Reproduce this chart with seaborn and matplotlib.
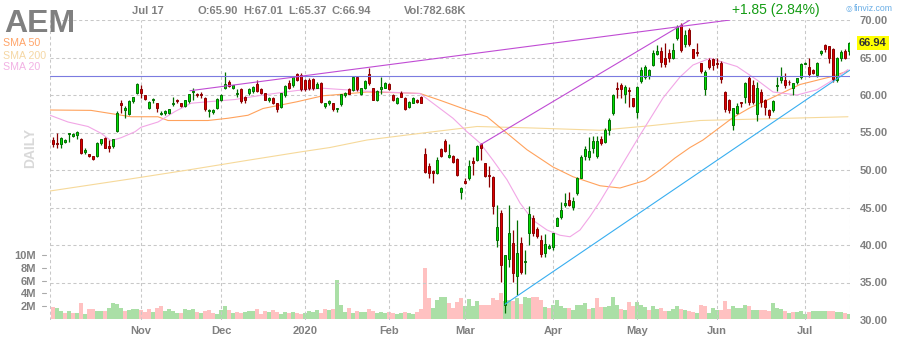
import matplotlib
matplotlib.use("Agg")
import matplotlib.pyplot as plt
from matplotlib.lines import Line2D
import numpy as np
import seaborn as sns

# ---------------- data ----------------
ticker = "AEM"
header_date = "Jul 17"
header_ohlc = ["O:65.90", "H:67.01", "L:65.37", "C:66.94"]
header_vol = "Vol:782.68K"
change_text = "+1.85 (2.84%)"
last_price = 66.94

opens = [54.0, 53.65, 53.47, 53.73, 54.85, 54.53, 54.62, 54.13, 52.4, 52.13,
         51.87, 51.91, 53.56, 54.2, 53.2, 53.2, 55.2, 58.9, 58.0, 57.47,
         59.24, 60.31, 60.76, 60.0, 58.3, 59.3, 58.89, 57.5, 57.55, 57.55,
         58.85, 59.3, 58.9, 58.5, 59.15, 60.4, 60.2, 60.2, 59.6, 57.9,
         57.8, 58.3, 59.35, 60.9, 61.78, 60.9, 60.2, 60.76, 59.8, 60.22,
         60.5, 61.5, 60.8, 60.2, 59.3, 59.6, 58.9, 58.4, 60.0, 61.6,
         61.3, 62.8, 62.67, 62.0, 62.0, 62.1, 61.0, 61.56, 58.5, 58.9,
         58.9, 58.1, 58.76, 60.0, 60.76, 60.67, 62.36, 60.2, 61.0, 62.8,
         60.9, 59.33, 60.85, 61.0, 61.47, 60.0, 58.9, 60.2, 59.56, 58.4,
         58.98, 59.33, 59.78, 52.13, 50.5, 49.87, 49.64, 52.75, 53.9, 51.7,
         51.87, 51.47, 47.1, 48.6, 49.0, 51.2, 51.33, 53.47, 50.98, 49.35,
         49.1, 40.67, 44.3, 32.0, 38.13, 40.3, 35.9, 40.2, 37.8, 41.56,
         43.56, 42.13, 40.67, 39.0, 39.6, 39.78, 42.6, 43.78, 45.3, 46.0,
         45.1, 46.98, 49.0, 51.9, 51.7, 53.0, 51.87, 54.2, 53.8, 55.33,
         57.56, 60.9, 61.33, 60.13, 60.7, 59.56, 57.8, 61.9, 62.4, 62.53,
         64.0, 65.42, 65.87, 64.9, 65.64, 64.9, 67.56, 69.33, 66.8, 68.67,
         66.1, 65.7, 64.2, 60.8, 64.67, 64.76, 64.3, 64.3, 60.44, 59.33,
         56.0, 57.64, 59.0, 59.8, 62.3, 61.4, 57.5, 60.44, 59.33, 58.0,
         58.0, 61.2, 62.0, 62.0, 61.8, 60.9, 61.8, 62.44, 64.2, 63.78,
         63.4, 62.67, 65.56, 66.67, 66.5, 66.2, 62.0, 65.0, 65.87, 65.90]

highs = [54.4, 54.9, 54.44, 54.2, 55.0, 55.0, 55.2, 54.3, 52.9, 52.2,
         51.9, 53.7, 54.2, 54.4, 54.0, 54.2, 57.9, 59.3, 58.5, 59.4,
         59.8, 61.6, 61.3, 60.0, 59.2, 59.6, 59.0, 57.9, 58.0, 58.2,
         59.7, 59.5, 59.0, 59.4, 60.2, 60.9, 60.3, 60.4, 59.7, 58.2,
         58.1, 59.6, 60.1, 63.1, 62.0, 61.4, 60.8, 61.0, 59.9, 61.0,
         61.2, 62.0, 61.0, 60.3, 59.8, 59.7, 59.0, 60.3, 61.3, 62.0,
         62.5, 63.0, 62.9, 62.2, 62.3, 62.3, 61.7, 61.7, 59.0, 59.4,
         59.0, 58.3, 60.2, 60.4, 61.0, 62.5, 62.6, 61.0, 62.0, 63.56,
         61.0, 60.7, 62.4, 61.7, 61.6, 60.1, 59.7, 60.5, 59.7, 59.2,
         59.7, 59.5, 59.9, 52.9, 50.9, 50.0, 51.7, 52.9, 54.1, 53.5,
         52.0, 51.6, 47.8, 48.9, 51.3, 51.8, 53.3, 53.6, 51.0, 50.5,
         49.2, 45.3, 44.7, 38.7, 45.3, 42.0, 43.3, 41.1, 39.3, 45.2,
         44.0, 42.4, 41.3, 41.5, 40.1, 41.65, 43.8, 45.8, 46.9, 47.1,
         46.4, 49.1, 52.0, 53.2, 54.4, 54.5, 54.5, 54.6, 55.6, 56.9,
         60.1, 61.8, 61.6, 61.3, 61.1, 59.6, 61.2, 63.8, 64.0, 63.5,
         66.0, 66.7, 66.4, 66.9, 66.2, 67.0, 69.3, 69.6, 68.7, 69.0,
         66.2, 66.9, 64.3, 63.3, 64.9, 64.9, 65.0, 64.5, 60.5, 59.5,
         58.3, 58.9, 59.1, 61.8, 62.6, 62.0, 61.8, 60.8, 59.5, 58.1,
         59.3, 62.4, 63.8, 62.9, 62.0, 61.6, 62.3, 64.3, 64.4, 64.9,
         63.5, 64.4, 66.0, 66.8, 66.6, 66.3, 65.1, 66.0, 66.1, 67.01]

lows = [53.1, 52.9, 52.9, 53.6, 53.8, 54.4, 54.2, 52.1, 52.2, 51.7,
        51.3, 51.8, 53.4, 52.9, 52.4, 52.9, 55.1, 57.56, 56.9, 57.3,
        59.0, 60.2, 59.6, 59.3, 58.2, 58.9, 57.8, 57.3, 57.4, 57.5,
        58.5, 59.0, 58.4, 58.4, 59.0, 59.3, 59.8, 59.6, 57.9, 57.1,
        57.5, 58.2, 59.2, 60.8, 61.1, 60.8, 59.8, 58.9, 59.0, 60.0,
        60.3, 60.4, 60.1, 59.3, 59.1, 58.8, 57.8, 58.3, 59.8, 60.8,
        61.1, 61.9, 60.6, 60.6, 60.7, 60.7, 60.9, 58.9, 58.3, 58.7,
        57.9, 57.7, 58.6, 59.8, 60.1, 60.5, 60.6, 60.0, 60.8, 61.4,
        59.3, 59.2, 60.2, 60.9, 60.7, 59.2, 58.8, 59.7, 58.0, 58.3,
        58.9, 58.9, 58.9, 49.6, 48.9, 48.3, 49.5, 51.7, 52.4, 51.6,
        51.0, 49.2, 46.1, 48.1, 48.7, 49.3, 51.2, 51.3, 49.1, 47.8,
        44.1, 39.8, 35.1, 30.9, 37.1, 35.1, 33.3, 36.2, 36.2, 40.0,
        41.2, 41.0, 38.4, 38.4, 39.5, 39.4, 42.5, 43.5, 45.1, 45.2,
        44.7, 46.7, 48.9, 51.3, 51.3, 52.3, 51.6, 53.4, 53.6, 54.7,
        57.3, 59.6, 59.6, 58.9, 58.4, 58.4, 56.9, 61.6, 62.2, 62.2,
        63.9, 65.3, 63.8, 63.8, 64.4, 64.8, 67.3, 65.8, 66.4, 66.5,
        64.9, 65.2, 63.0, 60.0, 63.5, 63.3, 63.6, 61.6, 57.8, 57.6,
        55.3, 57.5, 58.4, 59.0, 58.7, 58.8, 56.6, 58.4, 57.3, 57.0,
        57.7, 60.6, 61.6, 61.0, 61.3, 60.0, 61.5, 62.2, 64.1, 62.4,
        62.8, 62.4, 65.3, 65.8, 64.3, 61.8, 61.8, 64.5, 64.8, 65.37]

closes = [53.47, 53.47, 54.22, 54.0, 54.95, 54.8, 55.07, 52.22, 52.67, 51.87,
          51.42, 53.56, 54.13, 53.0, 53.0, 54.1, 57.56, 58.7, 58.2, 59.24,
          59.69, 61.47, 60.22, 59.5, 59.07, 59.4, 58.3, 57.65, 57.9, 58.1,
          58.95, 59.15, 58.5, 59.3, 60.1, 60.5, 59.95, 59.95, 58.1, 58.05,
          57.95, 59.47, 60.0, 61.5, 61.24, 61.3, 60.3, 59.24, 59.33, 60.76,
          61.1, 60.5, 60.3, 59.4, 59.6, 58.9, 58.2, 60.2, 61.2, 61.0,
          62.4, 62.0, 60.76, 60.76, 60.9, 60.9, 61.5, 59.1, 58.9, 59.25,
          58.1, 58.2, 60.1, 60.3, 60.2, 62.36, 60.76, 60.9, 61.9, 61.56,
          59.4, 60.58, 61.1, 61.6, 60.8, 59.4, 59.56, 59.8, 58.1, 59.1,
          59.56, 59.1, 59.0, 49.78, 49.56, 49.56, 51.33, 51.87, 52.6, 51.95,
          51.1, 49.33, 47.65, 48.22, 50.5, 50.9, 53.2, 53.0, 49.25, 49.2,
          45.25, 42.45, 37.3, 38.67, 41.6, 36.3, 38.98, 36.4, 37.9, 44.13,
          41.56, 41.25, 38.76, 40.1, 39.9, 41.56, 43.56, 44.67, 45.6, 45.3,
          45.9, 48.9, 51.7, 52.75, 52.6, 53.9, 53.87, 53.6, 55.3, 56.67,
          60.0, 60.8, 60.76, 61.1, 60.6, 58.58, 61.1, 63.33, 63.8, 63.33,
          65.56, 65.87, 64.44, 64.2, 64.9, 66.0, 69.0, 66.0, 68.0, 66.8,
          65.0, 65.6, 63.24, 63.1, 63.78, 64.0, 64.2, 62.1, 58.2, 58.0,
          58.2, 58.53, 58.9, 61.64, 59.1, 59.1, 60.9, 59.1, 58.36, 57.3,
          59.2, 61.3, 62.36, 61.4, 61.75, 61.56, 62.2, 64.13, 64.25, 62.8,
          62.9, 64.3, 65.87, 66.1, 64.9, 62.2, 65.0, 65.7, 65.0, 66.94]

volumes_m = [1.9, 1.7, 1.2, 0.9, 1.2, 0.9, 0.9, 2.5, 0.8, 1.6,
             1.5, 1.2, 1.2, 1.2, 1.7, 2.5, 2.4, 1.7, 1.2, 1.4,
             1.5, 1.5, 1.4, 1.1, 1.5, 1.1, 1.7, 2.0, 1.2, 1.5,
             1.2, 0.9, 0.9, 1.5, 1.4, 1.5, 1.1, 0.9, 1.2, 1.4,
             0.9, 0.8, 1.4, 2.1, 1.4, 0.9, 1.1, 0.9, 1.1, 1.2,
             1.2, 1.5, 0.8, 1.2, 1.1, 1.4, 1.1, 0.8, 1.1, 0.9,
             1.1, 0.9, 0.8, 0.9, 1.2, 1.1, 1.4, 0.9, 1.5, 1.4,
             1.5, 6.1, 2.2, 1.1, 1.8, 0.95, 1.3, 1.1, 1.1, 1.6,
             1.2, 1.0, 1.1, 0.9, 1.1, 1.0, 0.8, 0.9, 1.1, 0.9,
             0.8, 1.1, 1.6, 8.0, 3.3, 1.7, 2.9, 3.4, 3.4, 2.5,
             1.8, 2.7, 3.3, 2.0, 3.1, 2.0, 2.8, 2.25, 2.2, 2.25,
             3.3, 2.9, 4.1, 2.8, 3.0, 2.8, 3.3, 2.3, 3.5, 3.3,
             3.5, 3.5, 3.0, 1.85, 1.7, 2.25, 2.9, 2.0, 1.7, 1.7,
             1.45, 2.2, 2.2, 2.5, 1.6, 1.7, 3.3, 1.85, 1.85, 2.0,
             3.4, 2.25, 1.6, 1.45, 2.7, 2.0, 2.7, 2.25, 1.85, 1.45,
             2.0, 1.6, 1.7, 1.3, 1.3, 1.6, 2.0, 1.6, 1.45, 1.2,
             1.1, 0.95, 2.2, 2.0, 0.95, 1.8, 1.45, 1.45, 2.8, 1.6,
             2.0, 1.7, 1.7, 2.2, 2.0, 1.45, 1.4, 1.45, 1.45, 1.3,
             2.55, 1.7, 1.6, 1.2, 0.95, 1.1, 1.1, 1.2, 0.8, 1.1,
             1.2, 1.2, 1.2, 1.2, 1.2, 1.2, 1.1, 1.1, 0.95, 0.78]

month_pos = [22, 42, 63, 84, 103, 125, 146, 166, 188]
month_labels = ["Nov", "Dec", "2020", "Feb", "Mar", "Apr", "May", "Jun", "Jul"]

price_ticks = [30, 35, 40, 45, 50, 55, 60, 65, 70]
vol_ticks = [2, 4, 6, 8, 10]
vol_tick_labels = ["2M", "4M", "6M", "8M", "10M"]

sma50_pos = [-0.75, 9.5, 19.5, 26.25, 28.75, 38.75, 43.75, 48.75, 52.5, 61, 67.5, 70,
             78.5, 86.75, 91.75, 96.75, 103.5, 108.5, 113.5, 118.5, 125, 130, 136.75,
             141.75, 148, 151.75, 155.5, 159.25, 162.5, 165.5, 170, 174.25, 179.25,
             186.75, 194.25, 198.75]
sma50_val = [58.0, 57.95, 57.1, 57.1, 56.6, 56.6, 56.9, 57.3, 58.2, 59.1, 59.9, 60.0,
             60.4, 60.3, 60.2, 59.3, 58.0, 57.1, 54.9, 52.7, 50.4, 49.1, 47.9,
             47.6, 48.6, 50.0, 51.6, 53.0, 54.0, 55.2, 57.0, 58.3, 59.5,
             61.4, 62.4, 63.2]

sma200_pos = [-0.75, 19.25, 33.75, 48.75, 61.75, 69.25, 78.5, 95, 106, 120, 136.75,
              149.25, 161.75, 198.75]
sma200_val = [47.2, 48.8, 50.0, 51.3, 52.4, 53.0, 54.0, 55.1, 55.8, 55.6, 55.3,
              55.9, 56.6, 57.1]

sma20_pos = [-0.75, 3.75, 8.75, 12, 14.5, 17, 20.5, 22, 26.25, 30.5, 34.5, 38.75,
             45.5, 52.5, 61, 67.5, 78.5, 91.75, 95, 100, 103.5, 106.75, 110, 113.5,
             116.75, 120, 123.5, 126.75, 129.25, 131.75, 134.25, 136.75, 146, 152.5,
             156.75, 160, 164.25, 171, 176, 180, 186, 191, 195, 198.75]
sma20_val = [57.3, 56.4, 55.8, 54.9, 53.9, 54.3, 55.1, 55.7, 56.4, 57.8, 58.9, 59.1,
             59.4, 60.0, 60.6, 60.9, 60.5, 60.2, 58.9, 56.9, 55.1, 53.6, 51.3, 48.7,
             45.6, 43.3, 42.0, 41.3, 41.1, 42.0, 43.8, 45.8, 54.0, 59.6,
             62.4, 64.0, 64.9, 63.8, 62.0, 60.4, 60.0, 60.7, 62.0, 63.4]

# drawn trend lines (start / end in index, price)
hline_price = 62.53
trend_upper_x = [34.25, 169.25]
trend_upper_y = [60.57, 70.0]
trend_steep_x = [106.75, 159.25]
trend_steep_y = [53.33, 70.0]
trend_support_x = [113, 199.25]
trend_support_y = [32.1, 63.33]

# ---------------- drawing ----------------
sns.set_theme(style="white")
plt.rcParams['font.family'] = ['Liberation Sans', 'DejaVu Sans']

W, H = 900, 340
L, R, T, B = 50, 850, 20, 320
fig = plt.figure(figsize=(W / 100, H / 100), dpi=100)
fig.patch.set_facecolor("white")
rect = [L / W, 1 - B / H, (R - L) / W, (B - T) / H]

axv = fig.add_axes(rect)
ax = fig.add_axes(rect)
ax.patch.set_alpha(0)

O = np.array(opens); Hh = np.array(highs); Lo = np.array(lows); C = np.array(closes)
V = np.array(volumes_m)
n = len(C)
idx = np.arange(n)
xlim = (-0.75, n - 0.75)

GREY = "#808080"
LW = 0.8

# volume panel
prev_close = np.r_[O[0], C[:-1]]
vcol = np.where(C >= prev_close, "#aadfa6", "#ffc1c1")
axv.bar(idx, V, width=1.0, color=vcol, linewidth=0, zorder=1)
axv.set_xlim(xlim)
axv.set_ylim(-0.16, 46.9)
axv.set_xticks([])
axv.set_yticks(vol_ticks)
axv.set_yticklabels(vol_tick_labels)
axv.tick_params(axis="y", left=False, length=0, pad=10, labelsize=8, labelcolor=GREY)
for t in axv.get_yticklabels():
    t.set_fontweight("bold")
for s in axv.spines.values():
    s.set_visible(False)
axv.grid(False)

# price panel
ax.set_xlim(xlim)
ax.set_ylim(price_ticks[0], price_ticks[-1])
ax.grid(False)
for s in ax.spines.values():
    s.set_visible(False)
ax.set_yticks(price_ticks)
ax.set_yticklabels([f"{p:.2f}" for p in price_ticks])
ax.yaxis.tick_right()
ax.tick_params(axis="y", length=0, pad=7, labelsize=8, labelcolor=GREY)
ax.set_xticks(month_pos)
ax.set_xticklabels(month_labels)
ax.tick_params(axis="x", length=0, pad=4, labelsize=8, labelcolor=GREY)
for t in ax.get_yticklabels() + ax.get_xticklabels():
    t.set_fontweight("bold")

gkw = dict(color="#c8c8c8", lw=0.75, ls=(0, (3, 2.5)), zorder=0.5)
for p in price_ticks[1:]:
    ax.axhline(p, **gkw)
for xm in month_pos + [xlim[0] + 0.05, xlim[1] - 0.05]:
    ax.axvline(xm, **gkw)

# SMA lines
sns.lineplot(x=sma200_pos, y=sma200_val, ax=ax, color="#f6d99a", lw=LW, zorder=2)
sns.lineplot(x=sma50_pos, y=sma50_val, ax=ax, color="#ffa25c", lw=LW, zorder=2)
sns.lineplot(x=sma20_pos, y=sma20_val, ax=ax, color="#f2a6e6", lw=LW, zorder=2)

# candles
up = C >= O
body = np.where(up, "#00dd00", "#dd0000")
edge = np.where(up, "#007000", "#8b0000")
ax.vlines(idx, np.minimum(Lo, np.minimum(O, C)), np.maximum(Hh, np.maximum(O, C)),
          colors=edge, lw=0.9, zorder=3)
ax.bar(idx, np.abs(C - O), bottom=np.minimum(O, C), width=0.62, color=body,
       edgecolor=edge, linewidth=0.7, zorder=4)

# trend lines
ax.axhline(hline_price, color="#7b7be0", lw=LW, zorder=5)
sns.lineplot(x=trend_upper_x, y=trend_upper_y, ax=ax, color="#c04cd4", lw=LW, zorder=5)
sns.lineplot(x=trend_steep_x, y=trend_steep_y, ax=ax, color="#c04cd4", lw=LW, zorder=5)
sns.lineplot(x=trend_support_x, y=trend_support_y, ax=ax, color="#38aef0", lw=LW, zorder=5)
ax.set_xlim(xlim)
ax.set_ylim(price_ticks[0], price_ticks[-1])
ax.set_xlabel(""); ax.set_ylabel("")

# small volume tick dashes left of the panel
fig.canvas.draw()
for v in vol_ticks:
    ydisp = axv.transData.transform((0, v))[1]
    yf = ydisp / fig.bbox.height
    fig.add_artist(Line2D([42 / W, 45.5 / W], [yf, yf], color="#aaaaaa", lw=0.8))

def px(x, y):
    return x / W, 1 - y / H

# header
fig.text(*px(4, 32), ticker, fontsize=23, fontweight="bold", color=GREY, va="baseline")
fig.text(*px(132, 14), header_date, fontsize=8, fontweight="bold", color=GREY, va="baseline")
for xh, s in zip([197, 243, 288, 332], header_ohlc):
    fig.text(*px(xh, 14), s, fontsize=8, fontweight="bold", color=GREY, va="baseline")
fig.text(*px(404, 14), header_vol, fontsize=8, fontweight="bold", color=GREY, va="baseline")
fig.text(*px(732, 14), change_text, fontsize=10, color="#149c14", va="baseline")
fig.text(*px(846, 11), "\u25CE", fontsize=5.5, color="#6aaee6", va="baseline",
         family=["DejaVu Sans"])
fig.text(*px(854, 11), "finviz.com", fontsize=6.3, color="#6aaee6", va="baseline")

# SMA legend
fig.text(*px(3, 46), "SMA 50", fontsize=7.7, color="#ffa468", va="baseline")
fig.text(*px(3, 58.7), "SMA 200", fontsize=7.7, color="#f5d7a4", va="baseline")
fig.text(*px(3, 70.3), "SMA 20", fontsize=7.7, color="#f2b2e4", va="baseline")
fig.text(*px(30, 148), "DAILY", rotation=90, fontsize=10, fontweight="bold",
         color="#d9d9d9", ha="center", va="center")

# last price tag
ylast = ax.transData.transform((0, last_price))[1] / fig.bbox.height
fig.text(859 / W, ylast, f"{last_price:.2f}", fontsize=8, fontweight="bold", color="#333333",
         va="center", ha="left",
         bbox=dict(boxstyle="square,pad=0.18", fc="#ffff00", ec="none"))

fig.savefig("out.png", dpi=100, facecolor="white")
